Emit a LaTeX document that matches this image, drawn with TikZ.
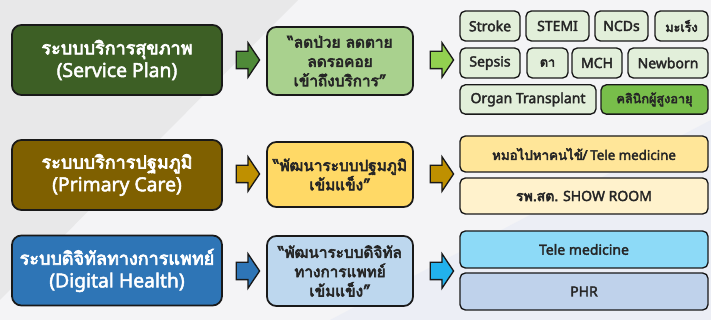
\documentclass[tikz,border=0pt]{standalone}
\usepackage{fontspec}
\setmainfont{Loma}[Script=Thai]
\newfontfamily\heavyfont{Loma}[Script=Thai, FakeBold=4]
\newfontfamily\latinfont{Noto Sans}[FakeBold=2.5]
\newcommand\en[1]{{\latinfont #1}}
\newcommand\enbig[1]{{\latinfont\fontsize{14.5}{17}\selectfont #1}}
\usetikzlibrary{shapes.arrows}

\definecolor{bgbase}{HTML}{F4F4F6}
\definecolor{bggray}{HTML}{E8E8E9}
\definecolor{bgtint}{HTML}{ECEEF5}
\definecolor{spdark}{HTML}{3D5F25}
\definecolor{sparrow}{HTML}{4F8A38}
\definecolor{spgoal}{HTML}{A9D18E}
\definecolor{sparrowb}{HTML}{92D050}
\definecolor{sptag}{HTML}{E2EFDA}
\definecolor{spold}{HTML}{78BE4A}
\definecolor{pcdark}{HTML}{7F6000}
\definecolor{pcarrow}{HTML}{BF9000}
\definecolor{pcgoal}{HTML}{FFD966}
\definecolor{pctaga}{HTML}{FFE699}
\definecolor{pctagb}{HTML}{FFF2CC}
\definecolor{dhdark}{HTML}{2E75B6}
\definecolor{dhgoal}{HTML}{BDD7EE}
\definecolor{dharrow}{HTML}{22B1EC}
\definecolor{dhtaga}{HTML}{8DDAF7}
\definecolor{dhtagb}{HTML}{BFD2EB}

\begin{document}
\begin{tikzpicture}[x=0.75pt,y=-0.75pt,
		mainbox/.style={draw=black!90, line width=1.3pt, rounded corners=7pt, align=center,
			text=white, font=\heavyfont\fontsize{13.5}{17}\selectfont,
			minimum width=157.5pt, minimum height=52.5pt, inner sep=2pt},
		goalbox/.style={draw=black!90, line width=1.3pt, rounded corners=7pt, align=center,
			text=black!85, font=\heavyfont\fontsize{11.5}{14.5}\selectfont,
			minimum width=109.5pt, inner sep=2pt},
		tagbox/.style={draw=black!90, line width=1pt, rounded corners=4pt, align=center,
			text=black!85, font=\heavyfont\fontsize{10.5}{12}\selectfont, inner sep=1pt},
		blockarrow/.style={single arrow, draw=black!90, line width=1pt,
			inner xsep=0pt, inner ysep=0pt, text height=12pt, text depth=0pt,
			minimum height=17.5pt, single arrow head extend=6.4pt,
			single arrow tip angle=112}]

		\useasboundingbox (0,0) rectangle (711,320);
		\fill[bgbase] (0,0) rectangle (711,320);
		\fill[bggray] (0,0) -- (298,0) -- (0,300) -- cycle;
		\fill[bgtint] (330,320) -- (711,120) -- (711,320) -- cycle;

		\node[mainbox, fill=spdark] (sp) at (117,60) {ระบบบริการสุขภาพ\\\enbig{(Service Plan)}};
		\node[mainbox, fill=pcdark] (pc) at (117,175) {ระบบบริการปฐมภูมิ\\\enbig{(Primary Care)}};
		\node[mainbox, fill=dhdark] (dh) at (117,270.5) {ระบบดิจิทัลทางการแพทย์\\\enbig{(Digital Health)}};

		\node[goalbox, fill=spgoal, minimum height=51pt] (spgoal) at (340,61) {“ลดป่วย ลดตาย\\ลดรอคอย\\เข้าถึงบริการ”};
		\node[goalbox, fill=pcgoal, minimum height=48.75pt] (pcgoal) at (340,174.5) {“พัฒนาระบบปฐมภูมิ\\เข้มแข็ง”};
		\node[goalbox, fill=dhgoal, minimum height=52.5pt] (dhgoal) at (340,271) {“พัฒนาระบบดิจิทัล\\ทางการแพทย์\\เข้มแข็ง”};

		\node[blockarrow, fill=sparrow] (spa) at (245,60) {};
		\node[blockarrow, fill=sparrowb] (spb) at (439,60) {};
		\node[blockarrow, fill=pcarrow] (pca) at (245,174) {};
		\node[blockarrow, fill=pcarrow] (pcb) at (439,174) {};
		\node[blockarrow, fill=dhdark] (dha) at (245,271) {};
		\node[blockarrow, fill=dharrow] (dhb) at (439,271) {};

		\node[tagbox, fill=sptag, minimum width=45pt, minimum height=22.5pt] (stroke) at (490,26) {\en{Stroke}};
		\node[tagbox, fill=sptag, minimum width=47.25pt, minimum height=22.5pt] (stemi) at (557.5,26) {\en{STEMI}};
		\node[tagbox, fill=sptag, minimum width=39.75pt, minimum height=22.5pt] (ncd) at (621.5,26) {\en{NCDs}};
		\node[tagbox, fill=sptag, minimum width=39.75pt, minimum height=22.5pt, font=\heavyfont\fontsize{9.5}{12}\selectfont] (cancer) at (681.5,26) {มะเร็ง};
		\node[tagbox, fill=sptag, minimum width=45pt, minimum height=22.5pt] (sepsis) at (490,63) {\en{Sepsis}};
		\node[tagbox, fill=sptag, minimum width=30.75pt, minimum height=22.5pt, font=\heavyfont\fontsize{9.5}{12}\selectfont] (eye) at (547.5,63) {ตา};
		\node[tagbox, fill=sptag, minimum width=37.5pt, minimum height=22.5pt] (mch) at (597,63) {\en{MCH}};
		\node[tagbox, fill=sptag, minimum width=60pt, minimum height=22.5pt] (newborn) at (668,63) {\en{Newborn}};
		\node[tagbox, fill=sptag, minimum width=102pt, minimum height=22pt] (organ) at (528,99.5) {\en{Organ Transplant}};
		\node[tagbox, fill=spold, minimum width=80.25pt, minimum height=22pt, font=\heavyfont\fontsize{9.5}{12}\selectfont] (elder) at (654.5,99.5) {คลินิกผู้สูงอายุ};

		\node[tagbox, fill=pctaga, minimum width=186pt, minimum height=27pt, font=\heavyfont\fontsize{10}{12}\selectfont] (visit) at (584,154) {หมอไปหาคนไข้/\en{ Tele medicine}};
		\node[tagbox, fill=pctagb, minimum width=186pt, minimum height=27pt] (room) at (584,196) {รพ.สต.\en{ SHOW ROOM}};

		\node[tagbox, fill=dhtaga, minimum width=186pt, minimum height=27.75pt] (tele) at (584,249.5) {\en{Tele medicine}};
		\node[tagbox, fill=dhtagb, minimum width=186pt, minimum height=27.75pt] (phr) at (584,291.5) {\en{PHR}};

	\end{tikzpicture}
\end{document}
